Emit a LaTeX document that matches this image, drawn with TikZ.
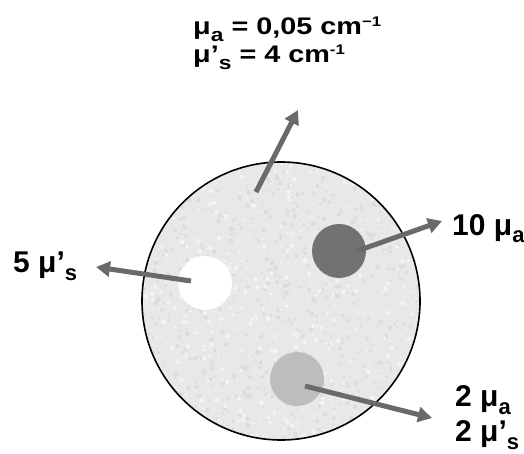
\documentclass[tikz,border=0pt]{standalone}
\usepackage{fontspec}
\setmainfont{Liberation Sans}
\usetikzlibrary{arrows.meta}
\definecolor{arrowgray}{HTML}{6A6A6A}
\definecolor{darkspot}{HTML}{727272}
\definecolor{lightspot}{HTML}{BDBDBD}
\definecolor{tissue}{HTML}{E8E8E8}
\definecolor{speckdark}{HTML}{DCDCDC}
\definecolor{specklight}{HTML}{F4F4F4}
\newcommand{\lsub}[1]{\raisebox{-8pt}{\fontsize{22}{22}\selectfont #1}}
\newcommand{\tsub}[1]{\raisebox{-7pt}{\fontsize{19}{19}\selectfont #1}}
\newcommand{\tsup}[1]{\raisebox{8pt}{\fontsize{14}{14}\selectfont #1}}
\begin{document}
\begin{tikzpicture}[x=1pt,y=-1pt,
  flux/.style={draw=arrowgray,line width=5pt,-{Triangle[length=14pt,width=15pt]}},
  spot/.style={circle,draw=none,minimum size=54pt,inner sep=0pt},
  lab/.style={font=\bfseries\fontsize{30}{32}\selectfont,inner sep=0pt,anchor=base west},
  toplab/.style={font=\bfseries\fontsize{24}{28}\selectfont,inner sep=0pt,anchor=base west}]
\useasboundingbox (0,0) rectangle (524,454);
% tissue
\fill[tissue] (281,301) circle (139);
\begin{scope}
\clip (281,301) circle (139);
\pgfmathsetseed{7}
\foreach \i in {1,...,900}{
  \pgfmathsetmacro{\px}{142+rnd*278}
  \pgfmathsetmacro{\py}{162+rnd*278}
  \pgfmathsetmacro{\pr}{0.6+rnd*1.8}
  \fill[speckdark] (\px,\py) circle (\pr);
}
\foreach \i in {1,...,600}{
  \pgfmathsetmacro{\px}{142+rnd*278}
  \pgfmathsetmacro{\py}{162+rnd*278}
  \pgfmathsetmacro{\pr}{0.6+rnd*1.8}
  \fill[specklight] (\px,\py) circle (\pr);
}
\end{scope}
\node[circle,draw=black,line width=1.6pt,minimum size=278pt,inner sep=0pt] (tissue) at (281,301) {};
% inclusions
\node[spot,fill=white] (white) at (205,283) {};
\node[spot,fill=darkspot] (dark) at (339,251) {};
\node[spot,fill=lightspot] (light) at (297,379) {};
% arrow end points
\coordinate (bgstart) at (256,192);
\coordinate (bgend) at (298,110);
\coordinate (wend) at (96,267);
\coordinate (dend) at (442,221);
\coordinate (lend) at (432,418);
% labels
\node[toplab] (top1) at (193,35) {\scalebox{1.2}[1]{μ\tsub{a} = 0,05 cm\tsup{−1}}};
\node[toplab] (top2) at (193,63) {\scalebox{1.2}[1]{μ’\tsub{s} = 4 cm\tsup{-1}}};
\node[lab] (lw) at (13,272) {5 μ’\lsub{s}};
\node[lab] (ld) at (452,235) {10 μ\lsub{a}};
\node[lab] (ll1) at (455,406) {2 μ\lsub{a}};
\node[lab] (ll2) at (455,441) {2 μ’\lsub{s}};
% arrows
\draw[flux] (white.center) ++(-14,-2) -- (wend);
\draw[flux] (dark.center) ++(18,0) -- (dend);
\draw[flux] (light.center) ++(8,7) -- (lend);
\draw[flux] (bgstart) -- (bgend);
\end{tikzpicture}
\end{document}
